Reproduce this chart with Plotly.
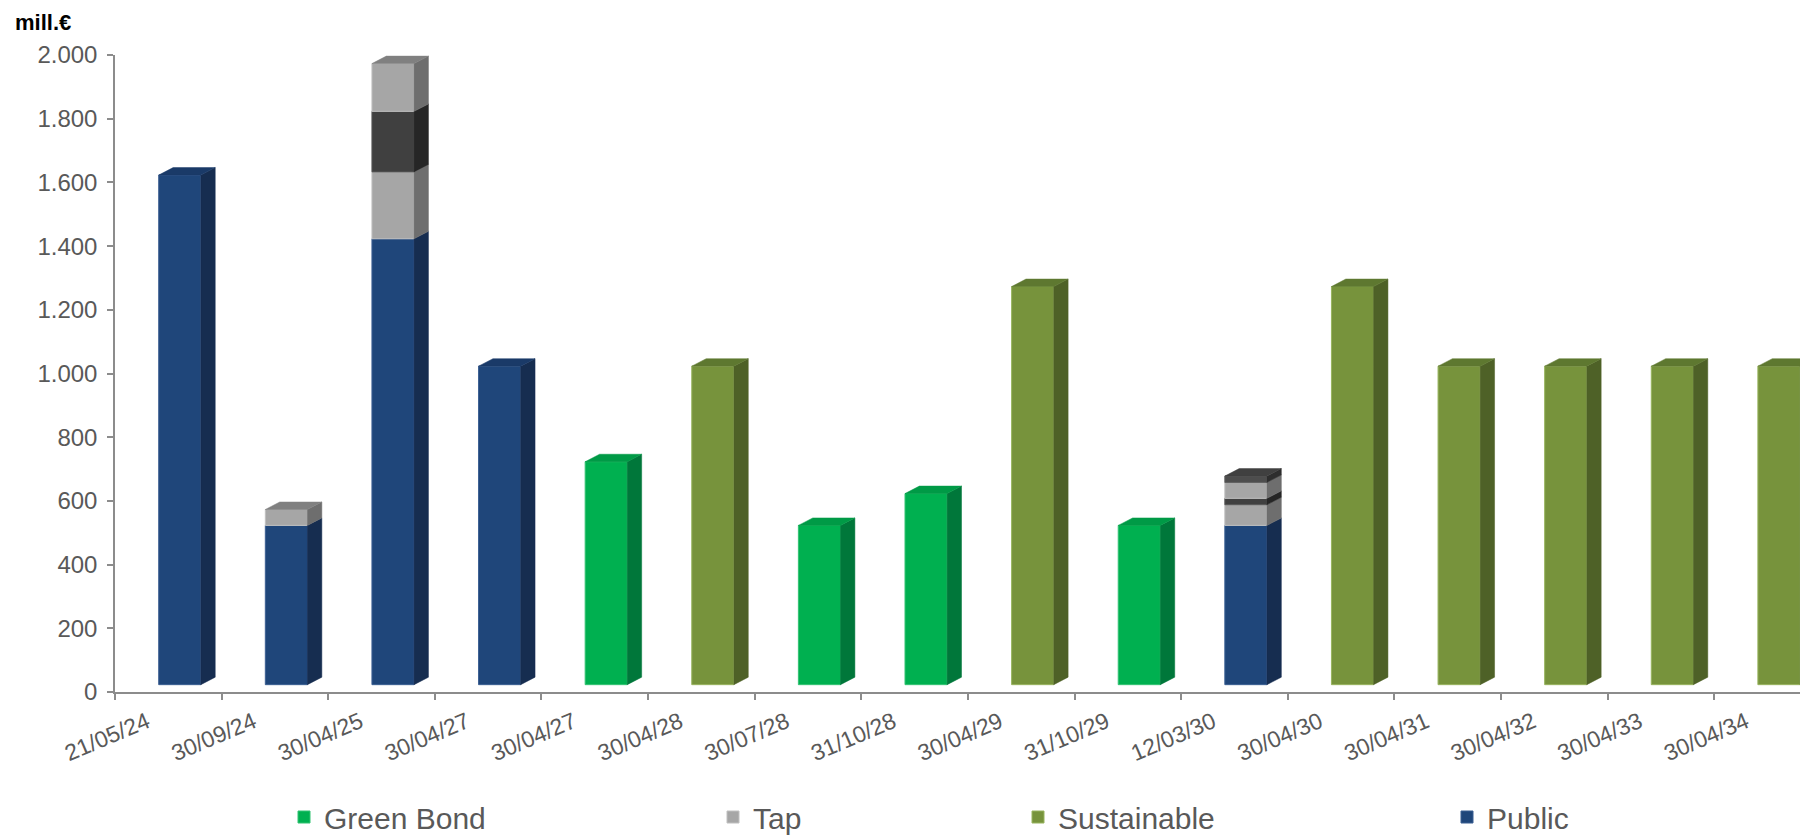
import plotly.graph_objects as go

# ---------------- data ----------------
categories = ["21/05/24", "30/09/24", "30/04/25", "30/04/27", "30/04/27", "30/04/28",
              "30/07/28", "31/10/28", "30/04/29", "31/10/29", "12/03/30", "30/04/30",
              "30/04/31", "30/04/32", "30/04/33", "30/04/34"]
public      = [1600, 500, 1400, 1000, 0, 0, 0, 0, 0, 0, 500, 0, 0, 0, 0, 0]
green_bond  = [0, 0, 0, 0, 700, 0, 500, 600, 0, 500, 0, 0, 0, 0, 0, 0]
sustainable = [0, 0, 0, 0, 0, 1000, 0, 0, 1250, 0, 0, 1250, 1000, 1000, 1000, 1000]
tap_1       = [0, 50, 210, 0, 0, 0, 0, 0, 0, 0, 65, 0, 0, 0, 0, 0]
tap_2       = [0, 0, 190, 0, 0, 0, 0, 0, 0, 0, 20, 0, 0, 0, 0, 0]
tap_3       = [0, 0, 150, 0, 0, 0, 0, 0, 0, 0, 50, 0, 0, 0, 0, 0]
tap_4       = [0, 0, 0, 0, 0, 0, 0, 0, 0, 0, 20, 0, 0, 0, 0, 0]
y_ticks = [0, 200, 400, 600, 800, 1000, 1200, 1400, 1600, 1800, 2000]

# ---------------- style ----------------
FONT = "Liberation Sans, Arial, sans-serif"
TXT = "#595959"
AXIS = "#8C8C8C"
FX0, FW = -0.09, 0.395       # front face offset / width (category units)
DX, DY = 0.135, 23.5         # pseudo-3D depth
BASE0 = 23                   # floor offset of the front face
LABEL_SHIFT = -0.2           # rotated labels end left of the category centre

series = [
    # name, values, front, side, cap, edge, legend, showlegend
    ("Public", public, "#1F467A", "#162D50", "#1A3A68", "#3B5F92", "legend4", True),
    ("Green Bond", green_bond, "#00B050", "#00773A", "#009A46", "#33C373", "legend", True),
    ("Sustainable", sustainable, "#77933C", "#4E6127", "#5E7830", "#98B45E", "legend3", True),
    ("Tap", tap_1, "#A6A6A6", "#6E6E6E", "#808080", "#C0C0C0", "legend2", True),
    ("Tap", tap_2, "#404040", "#262626", "#333333", "#555555", "legend2", False),
    ("Tap", tap_3, "#A6A6A6", "#6E6E6E", "#808080", "#C0C0C0", "legend2", False),
    ("Tap", tap_4, "#4D4D4D", "#2E2E2E", "#404040", "#606060", "legend2", False),
]

n = len(categories)
idx = list(range(n))
cum = [BASE0] * n
top_series = [None] * n
for s_i, s in enumerate(series):
    for i in idx:
        if s[1][i] > 0:
            top_series[i] = s_i

fig = go.Figure()
for s_i, (name, vals, front, side, cap, edge, leg, show) in enumerate(series):
    xs = [i for i in idx if vals[i] > 0]
    bases = [cum[i] for i in xs]
    ys = [vals[i] for i in xs]
    fig.add_trace(go.Bar(
        x=xs, y=ys, base=bases, width=FW, offset=FX0, name=name,
        marker=dict(color=front, line=dict(color=edge, width=1)),
        legend=leg, showlegend=show, hoverinfo="skip"))
    sx, sy, cx, cy = [], [], [], []
    for i in xs:
        b = cum[i]
        t = cum[i] + vals[i]
        x0 = i + FX0
        x1 = i + FX0 + FW
        sx += [x1, x1 + DX, x1 + DX, x1, x1, None]
        sy += [b, b + DY, t + DY, t, b, None]
        if top_series[i] == s_i:
            cx += [x0, x1, x1 + DX, x0 + DX, x0, None]
            cy += [t, t, t + DY, t + DY, t, None]
    fig.add_trace(go.Scatter(x=sx, y=sy, mode="lines", fill="toself", fillcolor=side,
                             line=dict(color=side, width=0.5), hoverinfo="skip",
                             showlegend=False))
    if cx:
        fig.add_trace(go.Scatter(x=cx, y=cy, mode="lines", fill="toself", fillcolor=cap,
                                 line=dict(color=cap, width=0.5), hoverinfo="skip",
                                 showlegend=False))
    for i in xs:
        cum[i] += vals[i]

# the page adds an 8px body margin, so the figure is 8px smaller than the window
OFF = 8
W, H = 1808 - OFF, 835 - OFF
ML, MT, MB = 115 - OFF, 55 - OFF, H - (692 - OFF)

legend_common = dict(orientation="h", xref="container", yref="container",
                     yanchor="middle", y=1 - (817 - OFF) / H,
                     font=dict(size=30, color=TXT, family=FONT),
                     bgcolor="rgba(0,0,0,0)")

fig.update_layout(
    width=W, height=H,
    paper_bgcolor="white", plot_bgcolor="white",
    barmode="overlay",
    separators=",.",
    margin=dict(l=ML, r=0, t=MT, b=MB, autoexpand=False),
    font=dict(family=FONT, color=TXT),
    xaxis=dict(
        range=[-0.5, 15.38], tickvals=[i + LABEL_SHIFT for i in idx], ticktext=categories,
        tickangle=-23, ticks="", showgrid=False, zeroline=False,
        showline=True, linecolor=AXIS, linewidth=1.5,
        tickfont=dict(size=23, color=TXT, family=FONT),
        ticklabelstandoff=6,
        minor=dict(tickvals=[k - 0.5 for k in range(n + 1)], ticks="outside",
                   ticklen=6, tickcolor=AXIS, tickwidth=1.5, showgrid=False),
    ),
    yaxis=dict(
        range=[0, 2000], tickvals=y_ticks, tickformat=",d",
        ticks="outside", ticklen=6, tickcolor=AXIS, tickwidth=1.5,
        showline=True, linecolor=AXIS, linewidth=1.5,
        showgrid=False, zeroline=False,
        tickfont=dict(size=24, color=TXT, family=FONT),
        ticklabelstandoff=5,
    ),
    legend=dict(x=(284 - OFF) / W, **legend_common),
    legend2=dict(x=(713 - OFF) / W, **legend_common),
    legend3=dict(x=(1018 - OFF) / W, **legend_common),
    legend4=dict(x=(1447 - OFF) / W, **legend_common),
    annotations=[dict(text="<b>mill.€</b>", xref="paper", yref="paper",
                      x=-(ML - (13 - OFF)) / (W - ML), y=1 + (MT - (23 - OFF)) / (H - MT - MB),
                      xanchor="left", yanchor="middle", showarrow=False,
                      font=dict(size=22, color="#000000", family=FONT))],
)

fig.write_html("out.html")
